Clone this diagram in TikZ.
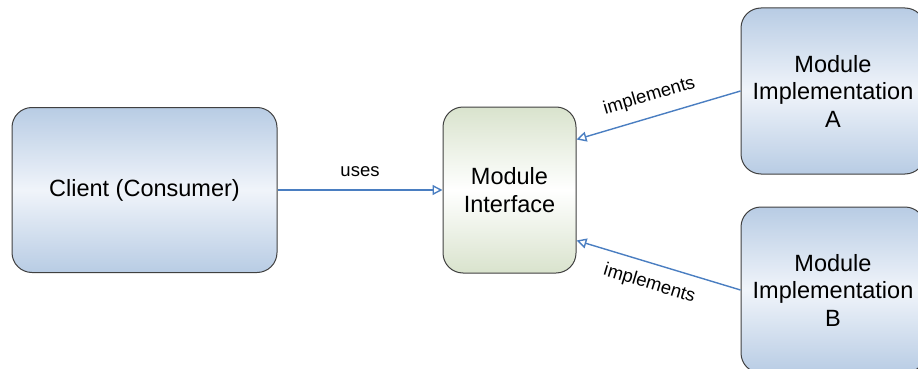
\documentclass[tikz,border=0pt]{standalone}
\usepackage{fontspec}
\setsansfont{Liberation Sans}
\usetikzlibrary{arrows.meta}
\definecolor{boxblue}{RGB}{184,204,228}
\definecolor{boxpale}{RGB}{240,244,250}
\definecolor{boxgreen}{RGB}{217,227,205}
\definecolor{linkblue}{RGB}{74,126,193}
\begin{document}
\begin{tikzpicture}[
      x=1pt, y=-1pt,
      linet/.style={line width=1.4pt, draw=linkblue,
        -{Triangle[open, length=10pt, width=10pt]}},
      punkt/.style={rectangle, rounded corners=20pt, draw=black!75, line width=1pt,
        top color=boxblue, bottom color=boxblue, middle color=boxpale,
        text centered, align=center, inner sep=0pt,
        font=\fontsize{23.5}{27.5}\selectfont},
      punktgreen/.style={punkt, top color=boxgreen, bottom color=boxgreen,
        middle color=white},
      etikett/.style={font=\fontsize{18.5}{22}\selectfont}
    ]
    \sffamily
    \useasboundingbox (0,0) rectangle (918,369);
    \path (144.5,190) node(client) [punkt, minimum width=265pt, minimum height=165pt] {Client (Consumer)}
    (509.5,190) node(iface) [punktgreen, minimum width=133pt, minimum height=166pt] {Module\\Interface}
    (833,91) node(implA) [punkt, minimum width=184pt, minimum height=166pt] {Module\\Implementation\\A}
    (833,290) node(implB) [punkt, minimum width=184pt, minimum height=166pt] {Module\\Implementation\\B};
    \draw[linet] (client) -- node[etikett, above=9pt] {uses} (iface);
    \draw[linet] (implA.west) -- node[etikett, sloped, pos=0.52, above=8pt] {implements} (iface.37);
    \draw[linet] (implB.west) -- node[etikett, sloped, pos=0.52, below=8pt] {implements} (iface.-37);
  \end{tikzpicture}
\end{document}
